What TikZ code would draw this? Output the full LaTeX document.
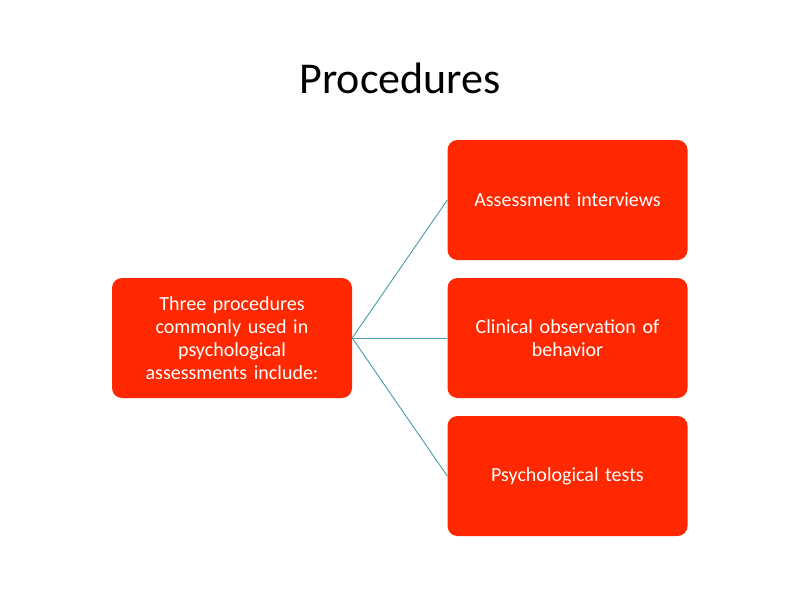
\documentclass[tikz,border=0pt]{standalone}
\usepackage{fontspec}
\setmainfont{Carlito}
\definecolor{boxred}{HTML}{FF2800}
\definecolor{linkc}{HTML}{4A9AAA}
\begin{document}
\begin{tikzpicture}[x=1pt,y=-1pt,
  box/.style={draw=none,fill=boxred,rounded corners=10pt,minimum width=240pt,minimum height=120pt,text width=220pt,align=center,text=white,font=\fontsize{20}{23}\selectfont},
  link/.style={draw=linkc,line width=0.9pt}]
\useasboundingbox (0,0) rectangle (800,600);
\node[font=\fontsize{44}{50}\selectfont] (title) at (400,78) {Procedures};
\node[box] (main) at (232,338) {Three procedures\\commonly used in\\psychological\\assessments include:};
\node[box] (a) at (567.5,200) {Assessment interviews};
\node[box] (b) at (567.5,338) {Clinical observation of\\behavior};
\node[box] (c) at (567.5,476) {Psychological tests};
\draw[link] (main.east) -- (a.west);
\draw[link] (main.east) -- (b.west);
\draw[link] (main.east) -- (c.west);
\end{tikzpicture}
\end{document}
